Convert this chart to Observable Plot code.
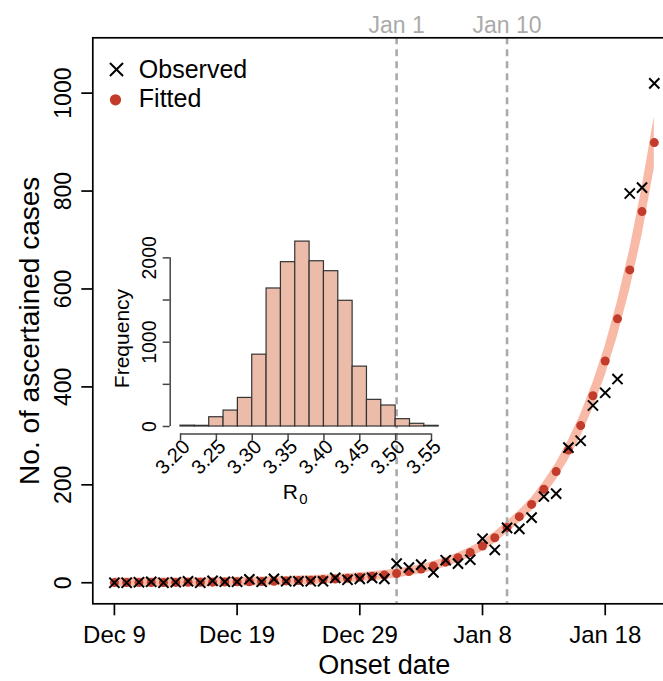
<!DOCTYPE html>
<html><head><meta charset="utf-8">
<script src="https://cdn.jsdelivr.net/npm/d3@7"></script>
<script src="https://cdn.jsdelivr.net/npm/@observablehq/plot@0.6"></script>
<style>
html,body{margin:0;padding:0;background:#fff;overflow:hidden}
#wrap{position:relative;width:663px;height:681px;overflow:hidden;background:#fff}
#main{position:absolute;left:0;top:0;width:676px;height:681px}
#inset{position:absolute;left:100px;top:190px;width:360px;height:320px}
</style></head><body><div id="wrap"><div id="main"></div><div id="inset"></div></div>
<script>
// ---- Main panel data (day 0 = Dec 9) ----
const observed = [0,0,1,2,0,1,3,0,4,2,2,7,2,8,3,3,3,3,10,6,8,10,8,
  39,31,37,21,46,39,47,90,67,112,110,133,176,182,276,290,362,388,416,795,807,1020];
const fitted = [0.3,0.35,0.4,0.5,0.6,0.7,0.85,1.0,1.2,1.5,1.8,2.1,2.6,3.1,3.7,4.4,5.3,6.4,7.6,9.2,11,13.2,15.8,
  19,23,28,34,42,51,62,75,92,113,135,160,191,227,271,321,382,453,539,639,758,899];
const bandLow = [-8.9,-8.85,-8.8,-8.7,-8.6,-8.5,-8.35,-8.2,-8,-7.7,-7.4,-7.1,-6.6,-6.1,-5.5,-4.8,-3.9,-2.8,-1.6,0,1.8,4,6.6,
  9.7,13.7,18.6,24.5,32.3,41.1,51.8,64.3,80.6,100.9,122.4,146.2,175.6,209.7,251.4,298.6,356,422.7,503.6,597.7,709.4,846.4];
const bandHigh = [9.5,9.55,9.6,9.7,9.8,9.9,10.05,10.2,10.4,10.7,11,11.3,11.8,12.3,12.9,13.6,14.5,15.6,16.8,18.4,20.2,22.4,25,
  28.3,32.3,37.4,43.5,51.7,60.9,72.2,85.7,103.4,125.1,147.6,173.8,206.4,244.3,290.6,343.4,408,483.3,574.4,680.3,806.6,951.6];
const xTickDays = [0,10,20,30,40];
const xTickLabels = ["Dec 9","Dec 19","Dec 29","Jan 8","Jan 18"];
const yTicks = [0,200,400,600,800,1000];
const refDays = [23,32];
const refLabels = ["Jan 1","Jan 10"];
const legendLabels = ["Observed","Fitted"];
const xTitle = "Onset date";
const yTitle = "No. of ascertained cases";

// ---- Inset histogram data ----
const histBinStart = [3.20,3.22,3.24,3.26,3.28,3.30,3.32,3.34,3.36,3.38,3.40,3.42,3.44,3.46,3.48,3.50,3.52,3.54];
const histCounts   = [10,8,110,189,339,852,1637,1949,2193,1960,1842,1491,710,316,249,87,32,8];
const histBinWidth = 0.02;
const histXTicks = [3.20,3.25,3.30,3.35,3.40,3.45,3.50,3.55];
const histYTicks = [0,500,1000,1500,2000];
const histYLabels = [0,1000,2000];

const FONT = "'Liberation Sans', Arial, Helvetica, sans-serif";
const RED = "#c23b2b", BAND = "#f8baa6", GREY = "#aaaaaa";

const rows = observed.map((o, i) => ({day: i, obs: o, fit: fitted[i], lo: bandLow[i], hi: bandHigh[i]}));
const nDays = observed.length - 1;
const xExt = 0.04 * nDays;

const main = Plot.plot({
  width: 676, height: 681,
  marginLeft: 92.3, marginRight: 0.6, marginTop: 37.3, marginBottom: 77.7,
  style: {fontFamily: FONT, background: "transparent", maxWidth: "none", overflow: "hidden", color: "black"},
  x: {domain: [-xExt, nDays + xExt]},
  y: {domain: [-43, 1113]},
  marks: [
    Plot.areaY(rows, {x: "day", y1: "lo", y2: "hi", fill: BAND}),
    Plot.ruleX(refDays, {x: d => d, stroke: GREY, strokeWidth: 2.6, strokeDasharray: "7,5"}),
    Plot.dot(rows, {x: "day", y: "fit", r: 4.5, fill: RED}),
    Plot.dot(rows, {x: "day", y: "obs", symbol: "times", r: 4.7, stroke: "black", strokeWidth: 2}),
    Plot.frame({stroke: "black", strokeWidth: 1.7}),
    Plot.axisX({ticks: xTickDays, tickSize: 12, tickPadding: 10, strokeWidth: 1.7,
      tickFormat: d => xTickLabels[xTickDays.indexOf(d)], fontSize: 24, label: null}),
    Plot.axisY({ticks: yTicks, tickSize: 11, strokeWidth: 1.7, tickFormat: () => "", label: null}),
    Plot.text(yTicks, {y: d => d, frameAnchor: "left", dx: -21.6, rotate: -90, text: d => String(d),
      fontSize: 23, lineAnchor: "bottom", textAnchor: "middle"}),
    Plot.text([yTitle], {frameAnchor: "left", dx: -54.3, dy: 10, rotate: -90, fontSize: 28,
      lineAnchor: "bottom", textAnchor: "middle"}),
    Plot.text([xTitle], {frameAnchor: "bottom", dx: 0, dy: 70, fontSize: 27, lineAnchor: "bottom"}),
    Plot.text(refDays, {x: d => d, frameAnchor: "top", dy: -5, text: (d, i) => refLabels[i],
      fill: GREY, fontSize: 23, lineAnchor: "bottom"}),
    Plot.dot([legendLabels[0]], {frameAnchor: "top-left", dx: 23.7, dy: 31.7, symbol: "times", r: 6,
      stroke: "black", strokeWidth: 2}),
    Plot.dot([legendLabels[1]], {frameAnchor: "top-left", dx: 22.7, dy: 62, r: 5.6, fill: RED}),
    Plot.text([legendLabels[0]], {frameAnchor: "top-left", dx: 46, dy: 40, fontSize: 25,
      textAnchor: "start", lineAnchor: "bottom"}),
    Plot.text([legendLabels[1]], {frameAnchor: "top-left", dx: 46, dy: 69.4, fontSize: 25,
      textAnchor: "start", lineAnchor: "bottom"})
  ]
});
document.getElementById("main").appendChild(main);

// ---- inset ----
const histRows = histBinStart.map((x0, i) => ({x1: x0, x2: x0 + histBinWidth, count: histCounts[i]}));
const hxMin = histBinStart[0], hxMax = histBinStart[histBinStart.length - 1] + histBinWidth;
const hxExt = 0.04 * (hxMax - hxMin);
const hyMax = d3.max(histCounts), hyExt = 0.04 * hyMax;

const inset = Plot.plot({
  width: 360, height: 320,
  marginLeft: 69.7, marginRight: 11.5, marginTop: 43.7, marginBottom: 76.6,
  style: {fontFamily: FONT, background: "transparent", maxWidth: "none", overflow: "visible", color: "black"},
  x: {domain: [hxMin - hxExt, hxMax + hxExt]},
  y: {domain: [-hyExt, hyMax + hyExt]},
  marks: [
    Plot.rectY(histRows, {x1: "x1", x2: "x2", y1: 0, y2: "count", fill: "#ecbcaa", stroke: "#333", strokeWidth: 1.2}),
    Plot.ruleX([hxMin - hxExt], {x: d => d, y1: histYTicks[0], y2: histYTicks[histYTicks.length - 1], stroke: "#444", strokeWidth: 1.5}),
    Plot.ruleY([-hyExt], {y: d => d, x1: histXTicks[0], x2: histXTicks[histXTicks.length - 1], stroke: "#444", strokeWidth: 1.5}),
    Plot.axisY({ticks: histYTicks, tickSize: 7, stroke: "#444", strokeWidth: 1.5, tickFormat: () => "", label: null}),
    Plot.text(histYLabels, {y: d => d, frameAnchor: "left", dx: -14.5, rotate: -90, text: d => String(d),
      fontSize: 19.5, lineAnchor: "bottom", textAnchor: "middle"}),
    Plot.axisX({ticks: histXTicks, tickSize: 7, stroke: "#444", strokeWidth: 1.5, tickFormat: () => "", label: null}),
    Plot.text(histXTicks, {x: d => d, frameAnchor: "bottom", dx: 6, dy: 9.5, rotate: -45, text: d => d.toFixed(2),
      fontSize: 20, textAnchor: "end", lineAnchor: "middle"}),
    Plot.text(["Frequency"], {frameAnchor: "left", dx: -41.7, dy: 4.5, rotate: -90, fontSize: 21,
      lineAnchor: "bottom", textAnchor: "middle"}),
    Plot.text(["R"], {frameAnchor: "bottom", dx: -11.6, dy: 64.6, fontSize: 21, textAnchor: "end", lineAnchor: "bottom"}),
    Plot.text(["0"], {frameAnchor: "bottom", dx: -10.4, dy: 69.6, fontSize: 15, textAnchor: "start", lineAnchor: "bottom"})
  ]
});
document.getElementById("inset").appendChild(inset);
</script></body></html>
